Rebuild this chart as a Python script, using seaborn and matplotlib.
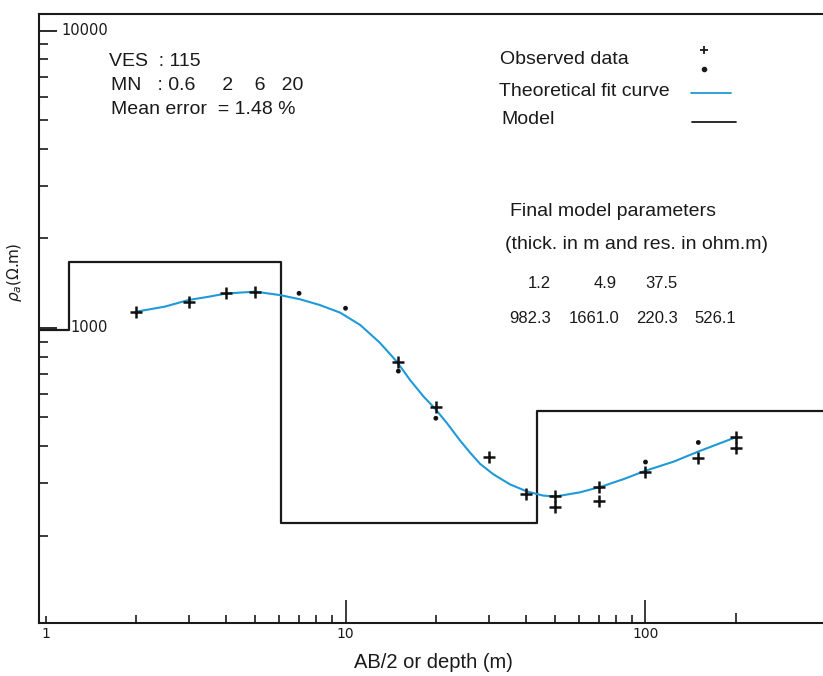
import numpy as np
import pandas as pd
import matplotlib
matplotlib.use('Agg')
import matplotlib.pyplot as plt
import matplotlib.transforms as mtransforms
from matplotlib.ticker import FixedLocator, NullFormatter, FixedFormatter
import seaborn as sns

# ─── Data ─────────────────────────────────────────────────────────────────────
# observed apparent resistivity, "+" symbols
obs_cross_ab2 = [2, 3, 4, 5, 15, 20, 30, 40, 50, 50, 70, 70, 100, 150, 200, 200]
obs_cross_rho = [1134, 1226, 1308, 1321, 770, 544, 369, 276, 273, 249, 291, 261, 329, 366, 429, 394]
# observed apparent resistivity, dot symbols
obs_dot_ab2 = [7, 10, 15, 20, 100, 150]
obs_dot_rho = [1308, 1165, 716, 497, 354, 412]

# theoretical fit curve
fit_ab2 = [2, 2.5, 3, 3.5, 4, 5, 6.05, 7.05, 8.2, 9.6, 11.2, 13, 14.8, 16.4, 18.2, 19.9,
           21.8, 24.1, 26, 28.1, 31.1, 35.3, 40.2, 45.6, 50, 60.5, 71.5, 84.4, 100, 124,
           150, 200]
fit_rho = [1134, 1180, 1242, 1274, 1306, 1325, 1290, 1249, 1195, 1126, 1023, 893, 772, 669,
           588, 535, 478, 418, 381, 349, 322, 298, 282, 273, 271, 280, 293, 310, 331, 355,
           384, 429]

# final model parameters
thickness = [1.2, 4.9, 37.5]
resistivity = [982.3, 1661.0, 220.3, 526.1]

# axes
XLIM = (0.951, 390.6)
YLIM = (102, 11380)
XMAJOR = [1, 10, 100]
XMAJOR_LABELS = ['1', '10', '100']
XMINOR = [2, 3, 4, 5, 6, 7, 8, 9, 20, 30, 40, 50, 60, 70, 80, 90, 200]
YMAJOR = [1000, 10000]
YMAJOR_LABELS = ['1000', '10000']
YMINOR = [200, 300, 400, 500, 600, 700, 800, 900,
          2000, 3000, 4000, 5000, 6000, 7000, 8000, 9000]

# ─── Style ────────────────────────────────────────────────────────────────────
sns.set_theme(style='white')
plt.rcParams['font.family'] = ['DejaVu Sans']
TXT = 'Liberation Sans'
INK = '#1a1a1a'
BLUE = '#1f9ad6'

W, H = 823, 676
def fx(px): return px / W
def fy(py): return 1 - py / H

fig = plt.figure(figsize=(W / 100, H / 100), dpi=100)
ax = fig.add_axes([fx(39), fy(622.7), fx(W - 39), (622.7 - 14) / H])
ax.set_xscale('log')
ax.set_yscale('log')

# ─── Model (step line built from layer parameters) ───────────────────────────
depths = np.cumsum(thickness)
mx = [XLIM[0]]
my = [resistivity[0]]
for d, r0, r1 in zip(depths, resistivity[:-1], resistivity[1:]):
    mx += [d, d]
    my += [r0, r1]
mx.append(XLIM[1] * 1.5)
my.append(resistivity[-1])
model = pd.DataFrame({'x': mx, 'y': my})
sns.lineplot(data=model, x='x', y='y', sort=False, estimator=None,
             color=INK, linewidth=1.6, ax=ax)

# ─── Fit curve and observations ──────────────────────────────────────────────
sns.lineplot(x=fit_ab2, y=fit_rho, sort=False, estimator=None,
             color=BLUE, linewidth=1.5, ax=ax)
sns.scatterplot(x=obs_cross_ab2, y=obs_cross_rho, marker='+', s=65,
                color='#111111', linewidth=1.8, ax=ax, zorder=4)
sns.scatterplot(x=obs_dot_ab2, y=obs_dot_rho, marker='o', s=12,
                color='#111111', edgecolor='none', ax=ax, zorder=4)

ax.set_xlim(*XLIM)
ax.set_ylim(*YLIM)
ax.set_xlabel('')
ax.set_ylabel('')

# ─── Axes frame and ticks ────────────────────────────────────────────────────
for side in ['top', 'left', 'bottom']:
    ax.spines[side].set_color(INK)
    ax.spines[side].set_linewidth(1.5)
ax.spines['right'].set_visible(False)

ax.xaxis.set_major_locator(FixedLocator(XMAJOR))
ax.xaxis.set_major_formatter(FixedFormatter(XMAJOR_LABELS))
ax.xaxis.set_minor_locator(FixedLocator(XMINOR))
ax.xaxis.set_minor_formatter(NullFormatter())
ax.yaxis.set_major_locator(FixedLocator(YMAJOR))
ax.yaxis.set_major_formatter(NullFormatter())
ax.yaxis.set_minor_locator(FixedLocator(YMINOR))
ax.yaxis.set_minor_formatter(NullFormatter())

ax.tick_params(axis='x', which='major', bottom=True, direction='in', length=16.5,
               width=1.2, color=INK, pad=3, labelsize=10, labelcolor=INK)
ax.tick_params(axis='x', which='minor', bottom=True, direction='in', length=5.8,
               width=1.2, color=INK)
ax.tick_params(axis='y', which='major', left=True, direction='in', length=13,
               width=1.3, color=INK)
ax.tick_params(axis='y', which='minor', left=True, direction='in', length=6.5,
               width=1.2, color=INK)

# the "1" tick is short, the 200 tick medium
ax.xaxis.get_major_ticks(len(XMAJOR))[0].tick1line.set_markersize(5.0)
ax.xaxis.get_minor_ticks(len(XMINOR))[-1].tick1line.set_markersize(7.5)

# y tick labels sit inside the frame
ytrans = mtransforms.blended_transform_factory(fig.transFigure, ax.transData)
for v, lab, px in zip(YMAJOR, YMAJOR_LABELS, [70, 61]):
    ax.text(fx(px), v, lab, transform=ytrans, fontsize=10.5, color=INK,
            ha='left', va='center')

# axis titles
fig.text(fx(433), fy(663), 'AB/2 or depth (m)', family=TXT, fontsize=14.5,
         color=INK, ha='center', va='center')
fig.text(fx(14), fy(272), r'$\rho_{a}$(Ω.m)', fontsize=11, color=INK,
         rotation=90, ha='center', va='center')

# ─── Header text ─────────────────────────────────────────────────────────────
hdr = dict(family=TXT, fontsize=14, color=INK, ha='left', va='center')
fig.text(fx(109), fy(62), 'VES  : 115', **hdr)
fig.text(fx(111), fy(86), 'MN   : 0.6     2    6   20', **hdr)
fig.text(fx(111), fy(110), 'Mean error  = 1.48 %', **hdr)

# ─── Legend (drawn by hand) ──────────────────────────────────────────────────
fig.text(fx(500), fy(59), 'Observed data', **hdr)
fig.text(fx(499), fy(92), 'Theoretical fit curve', **hdr)
fig.text(fx(501), fy(120), 'Model', **hdr)
fig.add_artist(plt.Line2D([fx(704)], [fy(50)], marker='+', markersize=6,
                          markeredgewidth=1.3, color=INK, linestyle='none'))
fig.add_artist(plt.Line2D([fx(704)], [fy(69)], marker='o', markersize=3,
                          color=INK, linestyle='none'))
fig.add_artist(plt.Line2D([fx(691), fx(731)], [fy(92.7), fy(92.7)],
                          color=BLUE, linewidth=1.3))
fig.add_artist(plt.Line2D([fx(692), fx(736)], [fy(121.7), fy(121.7)],
                          color=INK, linewidth=1.3))

# ─── Final model parameters ──────────────────────────────────────────────────
fig.text(fx(510), fy(211), 'Final model parameters', **hdr)
fig.text(fx(505), fy(244), '(thick. in m and res. in ohm.m)', **hdr)
num = dict(family=TXT, fontsize=12, color=INK, ha='left', va='center')
for v, px in zip(thickness, [528, 594, 645]):
    fig.text(fx(px), fy(283), f'{v:.1f}', **num)
for v, px in zip(resistivity, [509, 569, 636, 694]):
    fig.text(fx(px), fy(318), f'{v:.1f}', **num)

fig.savefig('out.png', dpi=100)
